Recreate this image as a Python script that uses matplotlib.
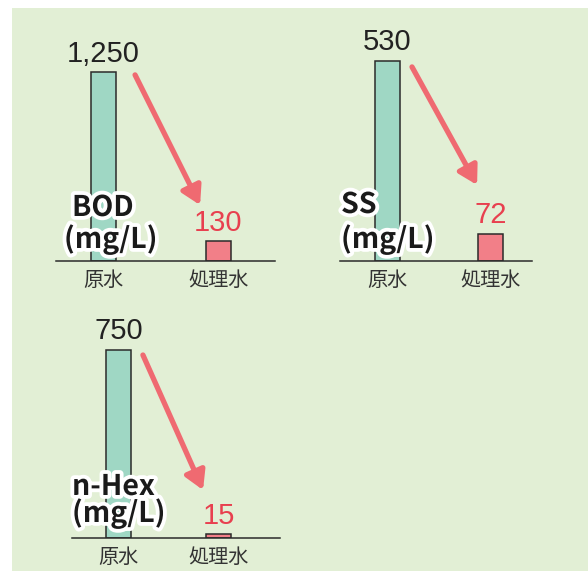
import matplotlib
matplotlib.use('Agg')
import matplotlib.pyplot as plt
import matplotlib.patheffects as pe
from matplotlib.patches import Rectangle

plt.rcParams['font.family'] = ['Noto Sans CJK JP', 'DejaVu Sans']

# data
categories = ['原水', '処理水']
params = ['BOD', 'SS', 'n-Hex']
units = ['(mg/L)', '(mg/L)', '(mg/L)']
raw_values = [1250, 530, 750]
treated_values = [130, 72, 15]

W, H = 588, 571
BG = '#e2efd5'
RAW_COLOR = '#9fd7c4'
TREATED_COLOR = '#f27f88'
ARROW_COLOR = '#ef6a71'
RED_TEXT = '#e8404f'
DARK = '#2b2b2b'

# layout per panel in pixels: left, baseline, right, top, bar centers, ymax
panels = [
    dict(left=56, base=261, right=275, top=19, c0=103.5, c1=218.5, ymax=1600,
         label_x=72, label_y=216, unit_x=64, unit_y=248,
         arrow=((0.361, 0.769), (0.658, 0.231))),
    dict(left=340, base=261, right=532, top=19, c0=387.5, c1=490.5, ymax=640,
         label_x=341, label_y=213, unit_x=341, unit_y=248,
         arrow=((0.375, 0.802), (0.714, 0.314))),
    dict(left=72, base=538, right=280, top=317, c0=118.5, c1=218.5, ymax=880,
         label_x=72, label_y=495, unit_x=72, unit_y=522,
         arrow=((0.341, 0.828), (0.630, 0.217))),
]
bar_px = 25

fig = plt.figure(figsize=(W / 100, H / 100), dpi=100)
fig.patch.set_facecolor('white')
fig.patches.append(Rectangle((12 / W, 0), 1 - 12 / W, (H - 8) / H,
                             transform=fig.transFigure, facecolor=BG,
                             edgecolor='none', zorder=-10))

outline = [pe.withStroke(linewidth=5.5, foreground='white')]

for i, p in enumerate(panels):
    ax = fig.add_axes([p['left'] / W, (H - p['base']) / H,
                       (p['right'] - p['left']) / W, (p['base'] - p['top']) / H])
    ax.set_facecolor('none')
    unit = p['c1'] - p['c0']
    ax.set_xlim((p['left'] - p['c0']) / unit, (p['right'] - p['c0']) / unit)
    ax.set_ylim(0, p['ymax'])
    vals = [raw_values[i], treated_values[i]]
    ax.bar([0, 1], vals, width=bar_px / unit, color=[RAW_COLOR, TREATED_COLOR],
           edgecolor=DARK, linewidth=1.1, zorder=2)
    for spine in ['left', 'right', 'top']:
        ax.spines[spine].set_visible(False)
    ax.spines['bottom'].set_color(DARK)
    ax.spines['bottom'].set_linewidth(1.1)
    ax.spines['bottom'].set_zorder(3)
    ax.set_yticks([])
    ax.set_xticks([0, 1])
    ax.set_xticklabels(categories, fontsize=14.5, color='#333333')
    ax.tick_params(axis='x', length=0, pad=6.5)

    ax.annotate(f'{raw_values[i]:,}', xy=(0, raw_values[i]), xytext=(0, 7.5),
                textcoords='offset points', ha='center', va='baseline',
                fontsize=21, color='#222222', family='Liberation Sans')
    ax.annotate(f'{treated_values[i]:,}', xy=(1, treated_values[i]), xytext=(0, 7.5),
                textcoords='offset points', ha='center', va='baseline',
                fontsize=21, color=RED_TEXT, family='Liberation Sans')

    tail, tip = p['arrow']
    ax.annotate('', xy=tip, xytext=tail, xycoords='axes fraction',
                textcoords='axes fraction',
                arrowprops=dict(arrowstyle='-|>,head_length=0.55,head_width=0.32',
                                mutation_scale=20, lw=3.8, color=ARROW_COLOR,
                                shrinkA=0, shrinkB=0), zorder=4)

    fig.text(p['label_x'] / W, 1 - p['label_y'] / H, params[i], ha='left',
             va='baseline', fontsize=20.5, fontweight='bold', color='#1a1a1a',
             path_effects=outline, zorder=5)
    fig.text(p['unit_x'] / W, 1 - p['unit_y'] / H, units[i], ha='left',
             va='baseline', fontsize=20.5, fontweight='bold', color='#1a1a1a',
             path_effects=outline, zorder=5)

fig.savefig('out.png', dpi=100)
